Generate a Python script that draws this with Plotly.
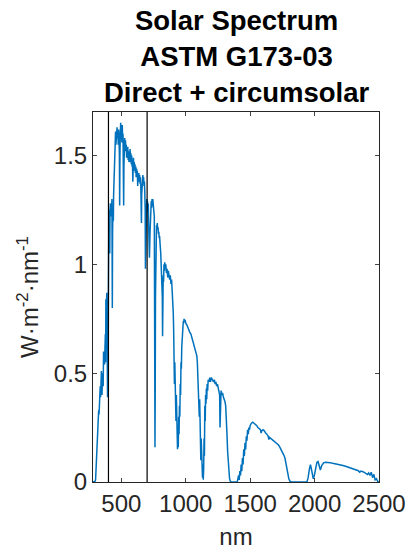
import plotly.graph_objects as go

# Wavelength (nm) and direct + circumsolar irradiance (W m^-2 nm^-1)
wavelength = [
    280, 285, 290, 295, 300, 303, 306, 309, 312, 315, 318, 321, 324, 327, 330, 333, 336, 339, 342, 345,
    348, 350, 353, 356, 359, 362, 365, 368, 370, 373, 376, 378, 380, 383, 385, 387, 389, 391, 393, 395,
    397, 399, 401, 403, 405, 408, 410, 412, 415, 418, 421, 424, 427, 430, 432, 435, 438, 440, 443, 446,
    449, 452, 455, 458, 461, 464, 467, 470, 473, 476, 479, 482, 485, 487, 489, 492, 495, 498, 501, 504,
    507, 510, 513, 516, 518, 520, 523, 526, 529, 532, 535, 538, 541, 544, 547, 550, 553, 556, 559, 562,
    565, 568, 571, 574, 577, 580, 583, 586, 589, 591, 594, 597, 600, 603, 606, 609, 612, 615, 618, 621,
    624, 627, 630, 633, 636, 639, 642, 645, 648, 651, 654, 656, 658, 661, 664, 667, 670, 673, 676, 679,
    682, 685, 687, 689, 691, 694, 697, 700, 703, 706, 709, 712, 715, 718, 720, 723, 726, 729, 732, 735,
    738, 741, 744, 747, 750, 753, 756, 759, 761, 763, 765, 767, 770, 773, 776, 779, 782, 785, 788, 791,
    794, 797, 800, 803, 806, 809, 812, 815, 818, 820, 822, 825, 828, 831, 834, 837, 840, 845, 850, 855,
    860, 865, 870, 875, 880, 885, 890, 895, 900, 903, 906, 909, 912, 915, 918, 921, 924, 927, 930, 933,
    936, 939, 942, 945, 948, 951, 954, 957, 960, 963, 966, 969, 972, 975, 978, 981, 984, 987, 990, 995,
    1000, 1010, 1020, 1030, 1040, 1050, 1060, 1070, 1080, 1086, 1090, 1095, 1100, 1105, 1108, 1111, 1114, 1117, 1120, 1124,
    1127, 1130, 1133, 1136, 1139, 1142, 1145, 1148, 1151, 1154, 1157, 1160, 1163, 1166, 1170, 1174, 1180, 1186, 1192, 1198,
    1204, 1210, 1216, 1222, 1228, 1234, 1240, 1246, 1252, 1258, 1263, 1266, 1269, 1274, 1280, 1286, 1292, 1298, 1304, 1310,
    1315, 1320, 1325, 1330, 1335, 1340, 1345, 1350, 1400, 1405, 1410, 1415, 1420, 1425, 1430, 1435, 1440, 1445, 1450, 1455,
    1460, 1465, 1470, 1475, 1480, 1485, 1490, 1495, 1500, 1510, 1520, 1530, 1540, 1550, 1560, 1570, 1580, 1585, 1590, 1600,
    1610, 1620, 1630, 1640, 1645, 1650, 1660, 1670, 1680, 1690, 1700, 1710, 1720, 1730, 1740, 1750, 1760, 1770, 1780, 1790,
    1800, 1810, 1820, 1940, 1950, 1960, 1968, 1975, 1982, 1990, 1998, 2008, 2018, 2027, 2035, 2045, 2055, 2070, 2085, 2100,
    2120, 2140, 2160, 2180, 2200, 2220, 2240, 2260, 2280, 2300, 2320, 2340, 2350, 2360, 2380, 2400, 2410, 2420, 2430, 2440,
    2450, 2460, 2470, 2480, 2490, 2500,
]

irradiance = [
    0.0, 0.0, 0.0, 0.002, 0.01, 0.05, 0.10, 0.16, 0.22, 0.24, 0.27, 0.30, 0.33, 0.31, 0.37, 0.34, 0.44, 0.39, 0.45, 0.51,
    0.43, 0.40, 0.47, 0.50, 0.44, 0.60, 0.55, 0.58, 0.54, 0.62, 0.68, 0.55, 0.84, 0.78, 0.83, 0.87, 0.72, 0.80, 0.39, 0.62,
    0.42, 0.80, 1.10, 1.20, 1.15, 1.25, 1.05, 1.25, 1.28, 1.22, 1.28, 1.25, 1.30, 0.80, 1.15, 1.25, 1.20, 1.32, 1.38, 1.45,
    1.52, 1.56, 1.61, 1.55, 1.60, 1.57, 1.63, 1.58, 1.61, 1.55, 1.62, 1.58, 1.50, 1.27, 1.50, 1.60, 1.65, 1.58, 1.63, 1.56,
    1.64, 1.58, 1.60, 1.50, 1.27, 1.45, 1.55, 1.58, 1.52, 1.57, 1.53, 1.55, 1.49, 1.53, 1.50, 1.54, 1.48, 1.52, 1.47, 1.52,
    1.49, 1.53, 1.47, 1.51, 1.46, 1.50, 1.45, 1.48, 1.38, 1.46, 1.49, 1.44, 1.47, 1.43, 1.46, 1.42, 1.45, 1.40, 1.44, 1.41,
    1.43, 1.36, 1.41, 1.39, 1.42, 1.38, 1.41, 1.37, 1.40, 1.36, 1.30, 1.19, 1.32, 1.40, 1.37, 1.41, 1.38, 1.40, 1.36, 1.38,
    1.33, 1.25, 0.98, 1.10, 1.22, 1.28, 1.30, 1.27, 1.29, 1.24, 1.28, 1.18, 1.10, 1.03, 1.08, 1.15, 1.22, 1.25, 1.29, 1.26,
    1.30, 1.27, 1.30, 1.28, 1.29, 1.26, 1.22, 0.60, 0.16, 0.40, 0.85, 1.00, 1.15, 1.18, 1.17, 1.19, 1.16, 1.17, 1.14, 1.15,
    1.12, 1.13, 1.10, 1.08, 1.05, 1.00, 0.95, 0.90, 0.85, 0.67, 0.88, 0.95, 0.92, 1.00, 0.97, 1.01, 0.98, 1.00, 0.96, 0.98,
    0.94, 0.97, 0.95, 0.93, 0.95, 0.91, 0.93, 0.88, 0.85, 0.78, 0.70, 0.60, 0.45, 0.55, 0.38, 0.48, 0.28, 0.40, 0.20, 0.32,
    0.15, 0.25, 0.16, 0.30, 0.22, 0.35, 0.30, 0.45, 0.40, 0.55, 0.52, 0.62, 0.66, 0.70, 0.72, 0.74, 0.73, 0.75, 0.74, 0.745,
    0.73, 0.72, 0.70, 0.69, 0.68, 0.66, 0.64, 0.61, 0.59, 0.58, 0.55, 0.48, 0.42, 0.30, 0.38, 0.20, 0.30, 0.10, 0.20, 0.05,
    0.15, 0.02, 0.08, 0.01, 0.06, 0.20, 0.12, 0.35, 0.28, 0.40, 0.36, 0.43, 0.38, 0.45, 0.42, 0.47, 0.46, 0.48, 0.46, 0.48,
    0.47, 0.47, 0.46, 0.47, 0.45, 0.46, 0.44, 0.45, 0.43, 0.42, 0.40, 0.25, 0.40, 0.42, 0.40, 0.41, 0.39, 0.38, 0.37, 0.35,
    0.30, 0.22, 0.14, 0.08, 0.04, 0.015, 0.005, 0.0, 0.0, 0.01, 0.03, 0.01, 0.05, 0.03, 0.08, 0.05, 0.11, 0.08, 0.15, 0.12,
    0.18, 0.15, 0.21, 0.19, 0.24, 0.22, 0.25, 0.24, 0.26, 0.27, 0.275, 0.27, 0.265, 0.26, 0.25, 0.245, 0.24, 0.225, 0.235, 0.24,
    0.235, 0.225, 0.22, 0.21, 0.195, 0.205, 0.20, 0.195, 0.19, 0.185, 0.18, 0.175, 0.17, 0.16, 0.15, 0.14, 0.125, 0.11, 0.08, 0.045,
    0.015, 0.003, 0.0, 0.0, 0.02, 0.06, 0.08, 0.06, 0.03, 0.015, 0.03, 0.07, 0.09, 0.094, 0.07, 0.055, 0.075, 0.088, 0.091, 0.091,
    0.089, 0.086, 0.084, 0.081, 0.079, 0.076, 0.072, 0.068, 0.064, 0.060, 0.056, 0.052, 0.045, 0.050, 0.046, 0.040, 0.034, 0.042, 0.030, 0.045,
    0.020, 0.035, 0.010, 0.015, 0.003, 0.0,
]

visible_band = [400, 700]
x_ticks = [500, 1000, 1500, 2000, 2500]
y_ticks = [0, 0.5, 1, 1.5]
y_tick_labels = ["0", "0.5", "1", "1.5"]
x_range = [280, 2500]
y_range = [0, 1.7]
title_lines = ["Solar Spectrum", "ASTM G173-03", "Direct + circumsolar"]

FONT = "Liberation Sans, Arial, Helvetica, sans-serif"
AXC = "#262626"

fig = go.Figure()
fig.add_trace(go.Scatter(x=wavelength, y=irradiance, mode="lines",
                         line=dict(color="#0072BD", width=1.5), showlegend=False))
for b in visible_band:
    fig.add_vline(x=b, line=dict(color="black", width=1.2))

fig.add_annotation(text="<b>" + "<br>".join(title_lines) + "</b>",
                   xref="paper", yref="paper", x=0.5, y=1, xanchor="center", yanchor="bottom",
                   yshift=2, showarrow=False, align="center",
                   font=dict(size=27.5, color="black", family=FONT))

fig.update_layout(
    width=418, height=558,
    margin=dict(l=93, r=31, t=112, b=68),
    paper_bgcolor="white", plot_bgcolor="white",
    font=dict(family=FONT, color=AXC),
)
fig.update_xaxes(range=x_range, tickvals=x_ticks, ticks="inside", ticklen=4,
                 showline=True, linecolor=AXC, linewidth=1, mirror="ticks",
                 showgrid=False, zeroline=False, ticklabeloverflow="allow",
                 tickfont=dict(size=24, color=AXC),
                 title=dict(text="nm", font=dict(size=24, color=AXC), standoff=12))
fig.update_yaxes(range=y_range, tickvals=y_ticks, ticktext=y_tick_labels, ticks="inside", ticklen=4,
                 showline=True, linecolor=AXC, linewidth=1, mirror="ticks",
                 showgrid=False, zeroline=False, tickfont=dict(size=24, color=AXC),
                 title=dict(text="W·m<sup>-2</sup>·nm<sup>-1</sup>", font=dict(size=24, color=AXC), standoff=8))

fig.write_html("out.html", config={"displayModeBar": False},
               post_script="document.body.style.margin='0';document.body.style.overflow='hidden';")
